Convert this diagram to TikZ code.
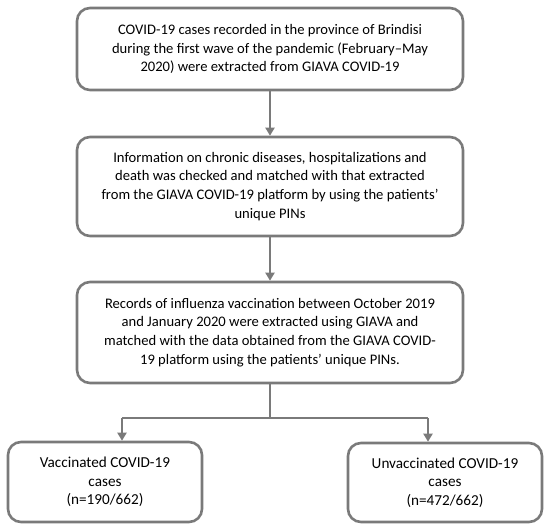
\documentclass[tikz,border=0pt]{standalone}
\usepackage{fontspec}
\setmainfont{Carlito}
\usetikzlibrary{arrows.meta}
\definecolor{linegray}{RGB}{122,122,122}
\tikzset{
  box/.style={draw=linegray, line width=2.6pt, rounded corners=13pt, align=center, inner sep=0pt,
    font=\fontsize{14.6}{18.8}\selectfont, text=black},
  smallbox/.style={box, font=\fontsize{15.2}{18.6}\selectfont},
  conn/.style={draw=linegray, line width=2.6pt},
  arr/.style={conn, -{Triangle[length=8pt,width=9pt]}}
}
\begin{document}
\begin{tikzpicture}[x=1pt,y=-1pt]
\useasboundingbox (0,0) rectangle (550,530);
\node[box, minimum width=386pt, minimum height=82pt] (b1) at (270,49)
  {COVID-19 cases recorded in the province of Brindisi\\during the first wave of the pandemic (February–May\\2020) were extracted from GIAVA COVID-19};
\node[box, minimum width=386pt, minimum height=99pt] (b2) at (270,186.5)
  {Information on chronic diseases, hospitalizations and\\death was checked and matched with that extracted\\from the GIAVA COVID-19 platform by using the patients’\\unique PINs};
\node[box, minimum width=386pt, minimum height=101pt] (b3) at (270,332.5)
  {Records of influenza vaccination between October 2019\\and January 2020 were extracted using GIAVA and\\matched with the data obtained from the GIAVA COVID-\\19 platform using the patients’ unique PINs.};
\node[smallbox, minimum width=194pt, minimum height=80pt] (b4) at (105,482)
  {Vaccinated COVID-19\\cases\\(n=190/662)};
\node[smallbox, minimum width=194pt, minimum height=79pt] (b5) at (445,482.5)
  {Unvaccinated COVID-19\\cases\\(n=472/662)};
\coordinate (j) at (270,418);
\coordinate (jl) at (122,418);
\coordinate (jr) at (428,418);
\draw[arr] (b1.south) -- (b2.north);
\draw[arr] (b2.south) -- (b3.north);
\draw[conn] (b3.south) -- (j);
\draw[conn] (jl) -- (jr);
\draw[arr] (jl) -- (jl |- b4.north);
\draw[arr] (jr) -- (jr |- b5.north);
\end{tikzpicture}
\end{document}
